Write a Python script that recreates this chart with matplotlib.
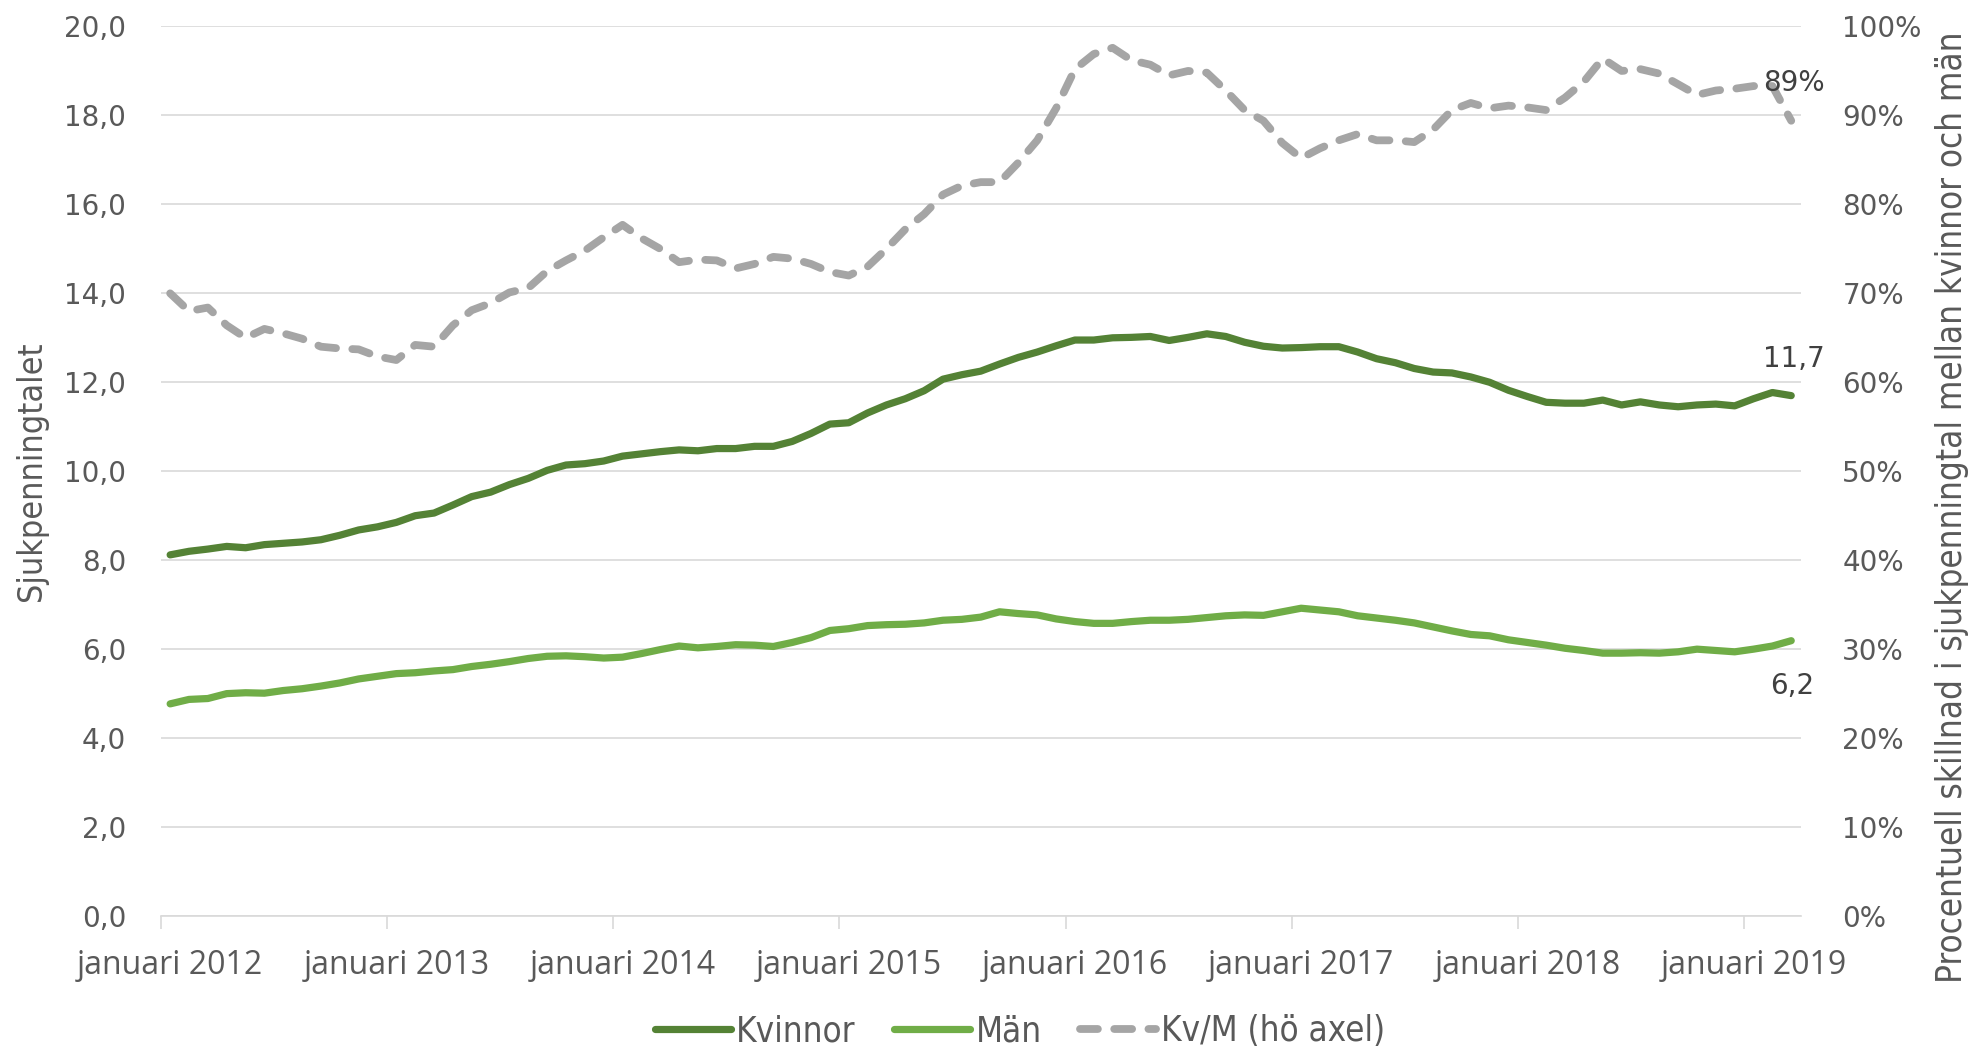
import matplotlib
matplotlib.use("Agg")
import matplotlib.pyplot as plt
from matplotlib.ticker import FixedLocator, FuncFormatter

# monthly values, januari 2012 .. mars 2019
kvinnor = [8.12, 8.20, 8.25, 8.31, 8.28, 8.35, 8.38, 8.41, 8.46, 8.56,
           8.68, 8.75, 8.85, 9.00, 9.06, 9.24, 9.43, 9.53, 9.70, 9.84,
           10.02, 10.14, 10.17, 10.23, 10.34, 10.39, 10.44, 10.48, 10.46, 10.51,
           10.51, 10.56, 10.56, 10.67, 10.85, 11.06, 11.09, 11.31, 11.49, 11.63,
           11.81, 12.07, 12.17, 12.25, 12.41, 12.56, 12.68, 12.82, 12.95, 12.95,
           13.00, 13.01, 13.03, 12.94, 13.01, 13.09, 13.03, 12.90, 12.81, 12.77,
           12.78, 12.80, 12.80, 12.68, 12.53, 12.44, 12.31, 12.23, 12.21, 12.12,
           12.00, 11.82, 11.68, 11.55, 11.53, 11.53, 11.60, 11.49, 11.56, 11.49,
           11.45, 11.49, 11.51, 11.47, 11.63, 11.77, 11.70]
man = [4.77, 4.87, 4.89, 5.00, 5.02, 5.01, 5.07, 5.11, 5.17, 5.24,
       5.33, 5.39, 5.45, 5.47, 5.51, 5.54, 5.61, 5.66, 5.72, 5.79,
       5.84, 5.85, 5.83, 5.80, 5.82, 5.90, 5.99, 6.07, 6.03, 6.06,
       6.10, 6.09, 6.06, 6.15, 6.26, 6.42, 6.46, 6.53, 6.55, 6.56,
       6.59, 6.65, 6.67, 6.72, 6.84, 6.80, 6.77, 6.68, 6.62, 6.58,
       6.58, 6.62, 6.65, 6.65, 6.67, 6.71, 6.75, 6.77, 6.76, 6.84,
       6.92, 6.88, 6.84, 6.75, 6.70, 6.65, 6.59, 6.50, 6.41, 6.33,
       6.30, 6.21, 6.15, 6.09, 6.02, 5.97, 5.91, 5.91, 5.92, 5.91,
       5.94, 6.00, 5.97, 5.94, 6.00, 6.07, 6.19]
kvm_pct = [70.0, 68.0, 68.4, 66.4, 65.0, 66.0, 65.5, 64.9, 64.0, 63.8,
           63.7, 62.9, 62.5, 64.2, 64.0, 66.4, 68.1, 68.9, 70.1, 70.6,
           72.5, 73.7, 74.8, 76.3, 77.7, 76.2, 75.0, 73.5, 73.8, 73.7,
           72.8, 73.3, 74.1, 73.9, 73.3, 72.4, 72.0, 73.0, 75.0, 77.2,
           78.9, 81.1, 82.1, 82.5, 82.5, 84.7, 87.2, 90.8, 95.2, 96.9,
           97.6, 96.2, 95.7, 94.5, 95.0, 94.8, 92.8, 90.6, 89.4, 86.9,
           85.2, 86.3, 87.2, 87.9, 87.2, 87.2, 87.0, 88.4, 90.6, 91.4,
           90.8, 91.1, 90.9, 90.6, 92.0, 93.8, 96.4, 95.0, 95.2, 94.7,
           93.5, 92.3, 92.8, 93.0, 93.3, 93.3, 89.4]
years = [2012, 2013, 2014, 2015, 2016, 2017, 2018, 2019]
year_labels = ["januari %d" % y for y in years]

months = list(range(len(kvinnor)))
kvm = [p / 100 for p in kvm_pct]

c_kv = "#548235"
c_man = "#70AD47"
c_ratio = "#A5A5A5"
c_grid = "#D9D9D9"
c_text = "#595959"
narrow = ["Liberation Sans Narrow", "DejaVu Sans"]

fig = plt.figure(figsize=(19.77, 10.50), dpi=100)
ax = fig.add_axes([0.0813, 0.1276, 0.9108 - 0.0813, 0.9748 - 0.1276])
ax2 = ax.twinx()

ax.plot(months, kvinnor, color=c_kv, lw=5.2, solid_capstyle="round", label="Kvinnor", zorder=3)
ax.plot(months, man, color=c_man, lw=5.2, solid_capstyle="round", label="Män", zorder=3)
ax2.plot(months, kvm, color=c_ratio, lw=5.6, dashes=(2.3, 2.1), dash_capstyle="round",
         label="Kv/M (hö axel)", zorder=3)

ax.set_xlim(-0.5, len(months) - 0.5)
ax.set_ylim(0, 20)
ax2.set_ylim(0, 1)

ax.set_yticks([v * 2 for v in range(11)])
ax.yaxis.set_major_formatter(FuncFormatter(lambda v, p: ("%.1f" % v).replace(".", ",")))
ax2.set_yticks([v / 10 for v in range(11)])
ax2.yaxis.set_major_formatter(FuncFormatter(lambda v, p: "%d%%" % round(v * 100)))

# ticks between months, labels centred on the january slot
tick_pos = [12 * i - 0.5 for i in range(len(years))]
label_pos = [12 * i for i in range(len(years))]
ax.xaxis.set_major_locator(FixedLocator(tick_pos))
ax.xaxis.set_major_formatter(FuncFormatter(lambda v, p: ""))
ax.xaxis.set_minor_locator(FixedLocator(label_pos))
ax.set_xticklabels(year_labels, minor=True)
ax.tick_params(axis="x", which="major", length=9, width=1.2, color=c_grid)
ax.tick_params(axis="x", which="minor", length=0, pad=24, labelsize=23, labelcolor=c_text)
for t in ax.get_xticklabels(minor=True):
    t.set_family(["Open Sans", "DejaVu Sans"])
ax.tick_params(axis="y", length=0, pad=25, labelsize=20, labelcolor=c_text)
ax2.tick_params(axis="y", length=0, pad=30, labelsize=20, labelcolor=c_text)

ax.grid(axis="y", color=c_grid, lw=1.2)
ax.set_axisbelow(True)
for a in (ax, ax2):
    for s in ("top", "left", "right"):
        a.spines[s].set_visible(False)
    a.spines["bottom"].set_color(c_grid)
    a.spines["bottom"].set_linewidth(1.2)
ax2.spines["bottom"].set_visible(False)

# data labels at the last month
last = months[-1]
ax.annotate(("%.1f" % kvinnor[-1]).replace(".", ","), (last, kvinnor[-1]), xytext=(3, 37),
            textcoords="offset pixels", ha="center", va="center", fontsize=20, color="#404040")
ax.annotate(("%.1f" % man[-1]).replace(".", ","), (last, man[-1]), xytext=(1, -45),
            textcoords="offset pixels", ha="center", va="center", fontsize=20, color="#404040")
ax2.annotate("%d%%" % round(kvm_pct[-1]), (last, kvm[-1]), xytext=(3, 38),
             textcoords="offset pixels", ha="center", va="center", fontsize=20, color="#404040")

fig.text(0.0157, 0.5514, "Sjukpenningtalet", rotation=90, ha="center", va="center",
         fontsize=24.5, color=c_text, family=narrow, fontstretch="condensed")
fig.text(0.9875, 0.517, "Procentuell skillnad i sjukpenningtal mellan kvinnor och män", rotation=90,
         ha="center", va="center", fontsize=25, color=c_text, family=narrow, fontstretch="condensed")

h1, l1 = ax.get_legend_handles_labels()
h2, l2 = ax2.get_legend_handles_labels()
leg = fig.legend(h1 + h2, l1 + l2, loc="center", bbox_to_anchor=(0.516, 0.018), ncol=3, frameon=False,
                 handlelength=2.2, handletextpad=0.15, columnspacing=1.1,
                 prop={"family": narrow, "size": 25, "stretch": "condensed"})
for t in leg.get_texts():
    t.set_color(c_text)

fig.savefig("out.png", dpi=100)
